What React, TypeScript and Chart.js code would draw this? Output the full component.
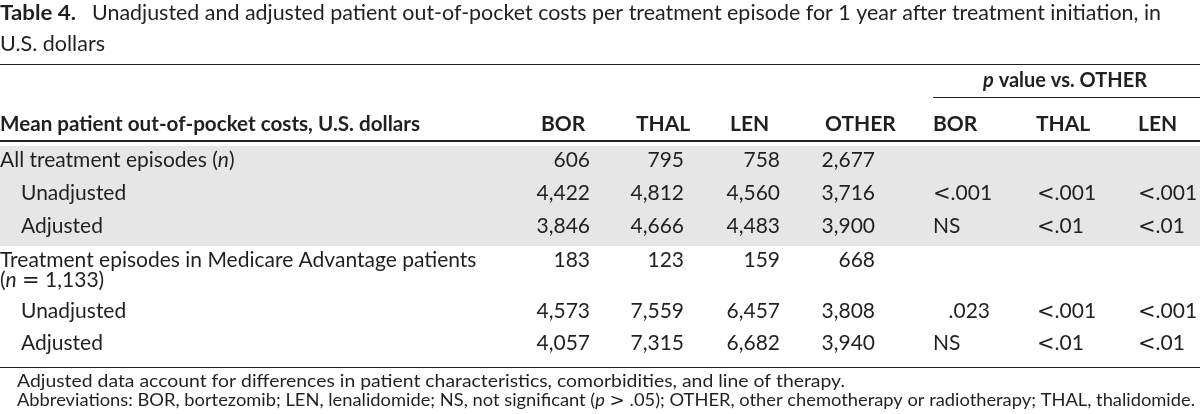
import React, { useEffect, useRef } from "react";
import { Chart, registerables } from "chart.js";

Chart.register(...registerables);

// ---------- data ----------
const titleLabel = "Table 4.";
const titleLine1 =
  "Unadjusted and adjusted patient out-of-pocket costs per treatment episode for 1 year after treatment initiation, in";
const titleLine2 = "U.S. dollars";
const stubHeader = "Mean patient out-of-pocket costs, U.S. dollars";
const groupHeader = "*p* value vs. OTHER";
const costColumns = ["BOR", "THAL", "LEN", "OTHER"];
const pColumns = ["BOR", "THAL", "LEN"];
const rowLabels = [
  ["All treatment episodes (*n*)"],
  ["Unadjusted"],
  ["Adjusted"],
  ["Treatment episodes in Medicare Advantage patients", "(*n* = 1,133)"],
  ["Unadjusted"],
  ["Adjusted"],
];
const rowIndent = [false, true, true, false, true, true];
const rowShaded = [true, true, true, false, false, false];
const borValues = ["606", "4,422", "3,846", "183", "4,573", "4,057"];
const thalValues = ["795", "4,812", "4,666", "123", "7,559", "7,315"];
const lenValues = ["758", "4,560", "4,483", "159", "6,457", "6,682"];
const otherValues = ["2,677", "3,716", "3,900", "668", "3,808", "3,940"];
const pBorValues = ["", "<.001", "NS", "", ".023", "NS"];
const pThalValues = ["", "<.001", "<.01", "", "<.001", "<.01"];
const pLenValues = ["", "<.001", "<.01", "", "<.001", "<.01"];
const footnotes = [
  "Adjusted data account for differences in patient characteristics, comorbidities, and line of therapy.",
  "Abbreviations: BOR, bortezomib; LEN, lenalidomide; NS, not significant (*p* > .05); OTHER, other chemotherapy or radiotherapy; THAL, thalidomide.",
];

// ---------- layout ----------
const FONT = "Lato, 'Open Sans', sans-serif";
const SYM_FONT = "'DejaVu Sans', sans-serif";
const TEXT = "#231f20";
const SIZE = 21;
const costRight = [590, 684, 780, 875];
const headerLeft = [541, 636, 730, 825];
const pLeft = [933, 1037, 1138];
const pRight = [990, 1092, 1195];
const pHeaderLeft = [933, 1036, 1138];
const rowBaselines = [167, 200, 233, 266.5, 318, 350];

type Seg = { t: string; it: boolean; sym: boolean };
function parse(s: string): Seg[] {
  const out: Seg[] = [];
  s.split("*").forEach((t, i) => {
    const it = i % 2 === 1;
    let buf = "";
    for (const ch of t) {
      if (ch === "<" || ch === ">" || ch === "=") {
        if (buf) out.push({ t: buf, it, sym: false });
        buf = "";
        out.push({ t: ch, it: false, sym: true });
      } else buf += ch;
    }
    if (buf) out.push({ t: buf, it, sym: false });
  });
  return out;
}
function font(size: number, bold: boolean, seg: Seg) {
  if (seg.sym) return `${Math.round(size * 1.02)}px ${SYM_FONT}`;
  return `${seg.it ? "italic " : ""}${bold ? "bold " : ""}${size}px ${FONT}`;
}
function richWidth(ctx: CanvasRenderingContext2D, segs: Seg[], size: number, bold: boolean) {
  let w = 0;
  for (const s of segs) {
    ctx.font = font(size, bold, s);
    w += ctx.measureText(s.t).width;
  }
  return w;
}
function drawRich(
  ctx: CanvasRenderingContext2D,
  str: string,
  x: number,
  y: number,
  opts: { size?: number; bold?: boolean; align?: "left" | "right" | "center"; width?: number } = {}
) {
  const size = opts.size ?? SIZE;
  const bold = !!opts.bold;
  const segs = parse(str);
  const natural = richWidth(ctx, segs, size, bold);
  const sx = opts.width ? opts.width / natural : 1;
  const w = natural * sx;
  let cx = x;
  if (opts.align === "right") cx = x - w;
  else if (opts.align === "center") cx = x - w / 2;
  ctx.save();
  ctx.translate(cx, y);
  ctx.scale(sx, 1);
  ctx.textAlign = "left";
  ctx.textBaseline = "alphabetic";
  ctx.fillStyle = TEXT;
  let px = 0;
  for (const s of segs) {
    ctx.font = font(size, bold, s);
    ctx.fillText(s.t, px, 0);
    px += ctx.measureText(s.t).width;
  }
  ctx.restore();
}
function hline(ctx: CanvasRenderingContext2D, x1: number, x2: number, y: number, lw: number) {
  ctx.save();
  ctx.strokeStyle = TEXT;
  ctx.lineWidth = lw;
  ctx.beginPath();
  ctx.moveTo(x1, y);
  ctx.lineTo(x2, y);
  ctx.stroke();
  ctx.restore();
}

const tablePlugin = {
  id: "tablePlugin",
  afterDraw(chart: any) {
    const ctx: CanvasRenderingContext2D = chart.ctx;
    const W = chart.width;
    ctx.save();
    ctx.globalCompositeOperation = "destination-over";
    ctx.fillStyle = "#ffffff";
    ctx.fillRect(0, 0, W, chart.height);
    ctx.restore();

    // title
    drawRich(ctx, titleLabel, 0, 20, { bold: true, size: 21, width: 76 });
    drawRich(ctx, titleLine1, 92, 20, { width: 1161 - 92 });
    drawRich(ctx, titleLine2, 0, 51, { width: 105 });

    hline(ctx, 0, W, 64.5, 1.2);

    // group header
    drawRich(ctx, groupHeader, 983, 87, { bold: true, width: 164 });
    hline(ctx, 933, W, 97.5, 1.2);

    // header row
    drawRich(ctx, stubHeader, 0, 131, { bold: true, width: 420 });
    costColumns.forEach((c, i) => drawRich(ctx, c, headerLeft[i], 131, { bold: true }));
    pColumns.forEach((c, i) => drawRich(ctx, c, pHeaderLeft[i], 131, { bold: true }));

    // shading
    ctx.save();
    ctx.fillStyle = "#e6e6e6";
    let top = Infinity;
    let bottom = -Infinity;
    rowShaded.forEach((s, i) => {
      if (!s) return;
      const b = rowBaselines[i];
      top = Math.min(top, b - 21);
      bottom = Math.max(bottom, b + 13);
    });
    ctx.fillRect(0, top, W, bottom - top);
    ctx.restore();

    hline(ctx, 0, W, 141, 1.8);

    const costs = [borValues, thalValues, lenValues, otherValues];
    const ps = [pBorValues, pThalValues, pLenValues];
    rowLabels.forEach((lines, i) => {
      const b = rowBaselines[i];
      lines.forEach((ln, k) => drawRich(ctx, ln, rowIndent[i] ? 21 : 0, b + k * 20.5));
      costs.forEach((col, c) => drawRich(ctx, col[i], costRight[c], b, { align: "right" }));
      ps.forEach((col, c) => {
        const v = col[i];
        if (!v) return;
        if (v.startsWith(".")) drawRich(ctx, v, pRight[c], b, { align: "right" });
        else drawRich(ctx, v, pLeft[c], b);
      });
    });

    hline(ctx, 0, W, 367.5, 1.2);

    drawRich(ctx, footnotes[0], 17, 387, { size: 17, width: 845 - 17 });
    drawRich(ctx, footnotes[1], 17, 406, { size: 17, width: 1195 - 17 });
  },
};

export default function App() {
  const ref = useRef<HTMLCanvasElement | null>(null);
  useEffect(() => {
    document.body.style.margin = "0";
    const canvas = ref.current!;
    const chart = new Chart(canvas, {
      type: "bar",
      data: {
        labels: rowLabels.map((l) => l.join(" ").replace(/\*/g, "")),
        datasets: costColumns.map((c, i) => ({
          label: c,
          data: [borValues, thalValues, lenValues, otherValues][i].map((v) => Number(v.replace(/,/g, ""))),
          backgroundColor: "rgba(0,0,0,0)",
          borderWidth: 0,
        })),
      },
      options: {
        responsive: false,
        animation: false,
        devicePixelRatio: 1,
        layout: { padding: 0 },
        plugins: { legend: { display: false }, tooltip: { enabled: false } },
        scales: {
          x: { display: false },
          y: { display: false },
        },
      },
      plugins: [tablePlugin],
    });
    return () => chart.destroy();
  }, []);
  return (
    <div style={{ width: 1200, height: 414 }}>
      <canvas ref={ref} width={1200} height={414} style={{ display: "block" }} />
    </div>
  );
}
